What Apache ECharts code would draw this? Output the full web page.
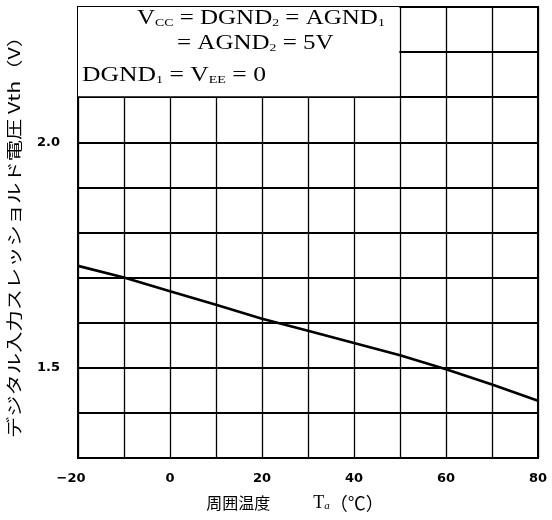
<!DOCTYPE html>
<html><head><meta charset="utf-8">
<script src="https://cdn.jsdelivr.net/npm/echarts@6/dist/echarts.min.js"></script>
<style>html,body{margin:0;padding:0;background:#fff}#c{width:552px;height:520px}</style>
</head><body><div id="c"></div>
<script>
const temps = [-20, -10, 0, 10, 20, 30, 40, 50, 60, 70, 80];
const vth = [1.726, 1.700, 1.670, 1.640, 1.609, 1.582, 1.555, 1.528, 1.497, 1.463, 1.427];
const xTickLabels = [-20, 0, 20, 40, 60, 80];
const yTickLabels = [1.5, 2.0];
const boxX = [-20, 49.85];
const boxY = [2.102, 2.3];
const yAxisTitle = 'デジタル入力スレッショルド電圧 Vth（V）';

const chart = echarts.init(document.getElementById('c'));
const serif = 'Liberation Serif';
const subStyle = {fontFamily: serif, fontSize: 11, verticalAlign: 'bottom', padding: [9, 0, 0, 0], fill: '#000'};
chart.setOption({
  animation: false,
  backgroundColor: '#fff',
  grid: {left: 78, right: 14, top: 7, bottom: 62, outerBoundsMode: 'none', containLabel: false,
         show: true, borderColor: '#000', borderWidth: 2, backgroundColor: 'transparent'},
  xAxis: {
    type: 'value', min: -20, max: 80, interval: 10,
    axisLine: {show: false}, axisTick: {show: false},
    splitLine: {show: true, lineStyle: {color: '#000', width: 1.3}},
    axisLabel: {
      margin: 14, color: '#000', fontFamily: 'DejaVu Sans', fontWeight: 'bold', fontSize: 13,
      formatter: v => xTickLabels.includes(v) ? (v < 0 ? '{m|\u2212' + Math.abs(v) + '}' : String(v)) : '',
      rich: {m: {fontFamily: 'DejaVu Sans', fontWeight: 'bold', fontSize: 13, color: '#000', padding: [0, 14, 0, 0]}}
    },
    name: '{c|周囲温度}{t|T}{s|a}{p|（℃）}', nameLocation: 'middle', nameGap: 36,
    nameTextStyle: {
      color: '#000', fontFamily: 'Noto Sans CJK JP', fontSize: 16, padding: [0, 26, 0, 0],
      rich: {
        c: {fontFamily: 'Noto Sans CJK JP', fontSize: 16, color: '#000'},
        t: {fontFamily: serif, fontSize: 18, color: '#000', padding: [0, 0, 0, 43]},
        s: {fontFamily: serif, fontStyle: 'italic', fontSize: 11, color: '#000', verticalAlign: 'bottom', padding: [7, 0, 0, 0]},
        p: {fontFamily: 'Noto Sans CJK JP', fontSize: 18, color: '#000'}
      }
    }
  },
  yAxis: {
    type: 'value', min: 1.3, max: 2.3, interval: 0.1,
    axisLine: {show: false}, axisTick: {show: false},
    splitLine: {show: true, lineStyle: {color: '#000', width: 2}},
    axisLabel: {
      margin: 18, color: '#000', fontFamily: 'DejaVu Sans', fontWeight: 'bold', fontSize: 13,
      formatter: v => {
        const r = Math.round(v * 10) / 10;
        return yTickLabels.includes(r) ? r.toFixed(1) : '';
      }
    }
  },
  series: [{
    type: 'line',
    data: temps.map((t, i) => [t, vth[i]]),
    showSymbol: false, smooth: false,
    lineStyle: {color: '#000', width: 2.6},
    z: 3,
    markArea: {
      silent: true,
      itemStyle: {color: '#fff', opacity: 1},
      data: [[{coord: [boxX[0], boxY[0]]}, {coord: [boxX[1], boxY[1]]}]]
    }
  }],
  graphic: [
    {type: 'text', x: 14, y: 232, rotation: Math.PI / 2, scaleX: 1.33, z: 100, style: {
      text: yAxisTitle, font: '16px "Noto Sans CJK JP"', fill: '#000', align: 'center', verticalAlign: 'middle'
    }},
    {type: 'text', x: 137, y: 19, scaleX: 1.25, z: 100, style: {
      text: 'V{s|CC} = DGND{s|2} = AGND{s|1}', font: '20px "Liberation Serif"', fill: '#000', verticalAlign: 'middle',
      rich: {s: subStyle}
    }},
    {type: 'text', x: 177, y: 44, scaleX: 1.25, z: 100, style: {
      text: '= AGND{s|2} = 5V', font: '20px "Liberation Serif"', fill: '#000', verticalAlign: 'middle',
      rich: {s: subStyle}
    }},
    {type: 'text', x: 82, y: 76, scaleX: 1.28, z: 100, style: {
      text: 'DGND{s|1} = V{s|EE} = 0', font: '20px "Liberation Serif"', fill: '#000', verticalAlign: 'middle',
      rich: {s: subStyle}
    }}
  ]
});
</script></body></html>
